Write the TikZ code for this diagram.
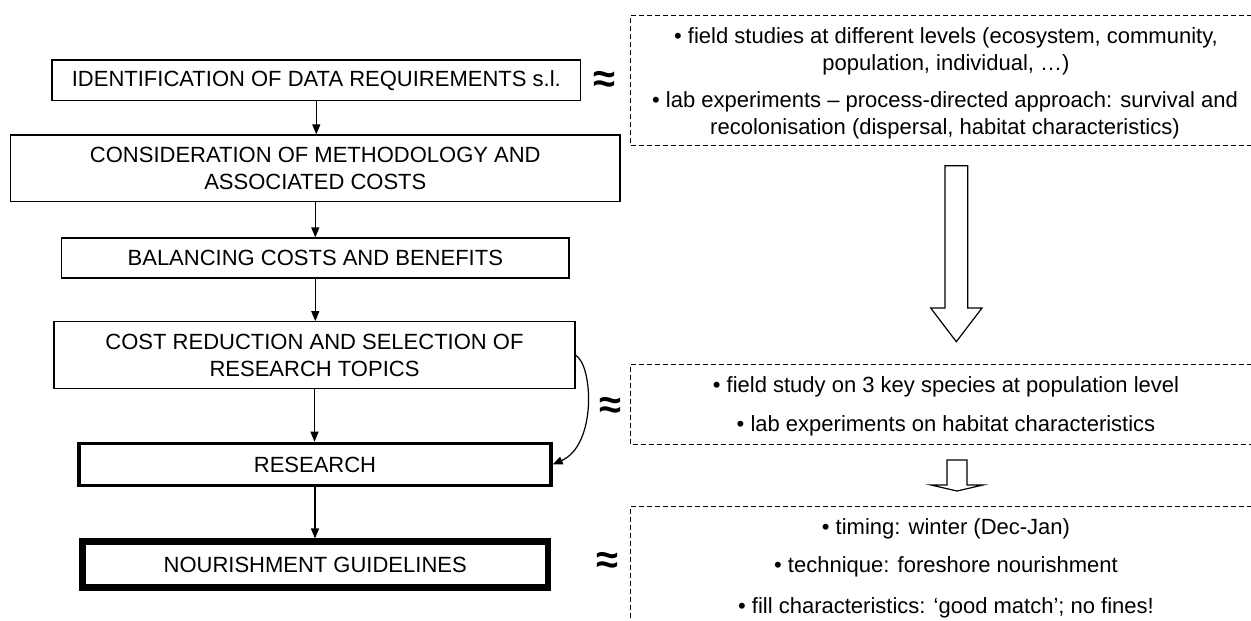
\documentclass[tikz,border=0pt]{standalone}
\usepackage{fontspec}
\setmainfont{Liberation Sans}
\usetikzlibrary{arrows.meta}
\begin{document}
\begin{tikzpicture}[x=1pt,y=-1pt,
  every node/.style={font=\fontsize{22}{26.5}\selectfont},
  stepbox/.style={draw, line width=1.2pt, inner sep=0pt, align=center},
  flow/.style={-{Triangle[length=10pt,width=8pt]}, line width=1.2pt},
  notebox/.style={dash pattern=on 5pt off 3pt, line width=1pt},
  notetext/.style={inner sep=0pt, align=center},
  approx/.style={inner sep=0pt, font=\fontsize{40}{40}\selectfont\bfseries},
  hollow/.style={draw, line width=1.2pt, fill=white, line join=miter}]
\useasboundingbox (0,0) rectangle (1251,621);
\clip (0,0) rectangle (1251,621);

% main flow
\node[stepbox, minimum width=528.7pt, minimum height=40.7pt] (b1) at (316.3,80.3)
  {IDENTIFICATION OF DATA REQUIREMENTS s.l.};
\node[stepbox, minimum width=609.3pt, minimum height=66.7pt] (b2) at (315.3,168.3)
  {CONSIDERATION OF METHODOLOGY AND\\ASSOCIATED COSTS};
\node[stepbox, minimum width=507.3pt, minimum height=40pt] (b3) at (315.3,258)
  {BALANCING COSTS AND BENEFITS};
\node[stepbox, minimum width=521pt, minimum height=67pt] (b4) at (314.5,355.2)
  {COST REDUCTION AND SELECTION OF\\RESEARCH TOPICS};
\node[stepbox, line width=3.3pt, minimum width=472pt, minimum height=42.3pt] (b5) at (315,464.5)
  {RESEARCH};
\node[stepbox, line width=6.5pt, minimum width=465.3pt, minimum height=45.6pt] (b6) at (315.2,564.5)
  {NOURISHMENT GUIDELINES};

\draw[flow] (b1.south) -- (b1.south |- b2.north);
\draw[flow] (b2.south) -- (b2.south |- b3.north);
\draw[flow] (b3.south) -- (b3.south |- b4.north);
\draw[flow] (b4.south) -- (b4.south |- b5.north);
\draw[flow] (b5.south) -- (b5.south |- b6.north);
\draw[flow] (b4.east) .. controls (593,365) and (597,445) .. (b5.east);

% approximation marks
\node[approx] (a1) at (604,82) {≈};
\node[approx] (a2) at (610,408) {≈};
\node[approx] (a3) at (607,563) {≈};

% dashed note frames (open to the right)
\draw[notebox] (1260,15.7) -- (630.7,15.7) -- (630.7,145.7) -- (1260,145.7);
\draw[notebox] (1260,364) -- (630.7,364) -- (630.7,444) -- (1260,444);
\draw[notebox] (1260,506.7) -- (630.7,506.7) -- (630.7,630);

% hollow block arrows
\draw[hollow] (945,165.7) -- (967.7,165.7) -- (967.7,308) -- (982,308) -- (956.3,341.7)
  -- (930.7,308) -- (945,308) -- cycle;
\draw[hollow] (947,460) -- (967,460) -- (967,485) -- (983,485) -- (957,491)
  -- (931,485) -- (947,485) -- cycle;

% note texts
\node[notetext] (n1a) at (946,51.5)
  {• field studies at different levels (ecosystem, community,\\population, individual, …)};
\node[notetext] (n1b) at (945,115.5)
  {• lab experiments – process-directed approach: survival and\\recolonisation (dispersal, habitat characteristics)};
\node[notetext] (n2a) at (946,387) {• field study on 3 key species at population level};
\node[notetext] (n2b) at (946,426) {• lab experiments on habitat characteristics};
\node[notetext] (n3a) at (946,529) {• timing: winter (Dec-Jan)};
\node[notetext] (n3b) at (946,567) {• technique: foreshore nourishment};
\node[notetext] (n3c) at (946,608) {• fill characteristics: ‘good match’; no fines!};
\end{tikzpicture}
\end{document}
